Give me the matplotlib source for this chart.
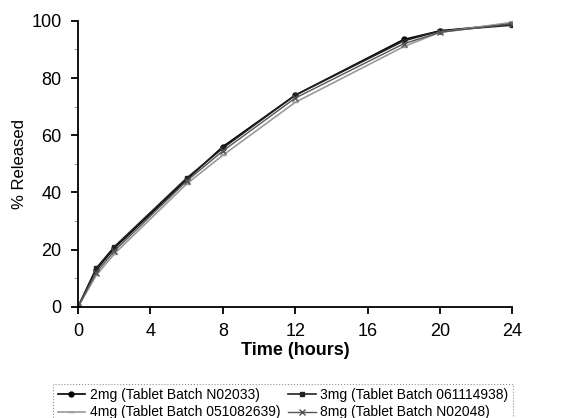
import matplotlib
matplotlib.use("Agg")
import matplotlib.pyplot as plt
from matplotlib.ticker import MultipleLocator

plt.rcParams['font.family'] = ['Liberation Sans', 'DejaVu Sans']

# Time points (hours)
time_h = [0, 1, 2, 6, 8, 12, 18, 20, 24]

# % released for each batch
rel_2mg = [0, 13, 20.5, 44.5, 56, 74, 93.5, 96.5, 99]
rel_3mg = [0, 13.5, 21, 45, 55.5, 74, 93, 96.5, 98.5]
rel_4mg = [0, 11, 18.5, 43, 53, 71.5, 91, 96, 99.5]
rel_8mg = [0, 12, 19.5, 44, 54.5, 73, 92, 96, 99]

labels = ["2mg (Tablet Batch N02033)", "3mg (Tablet Batch 061114938)",
          "4mg (Tablet Batch 051082639)", "8mg (Tablet Batch N02048)"]

fig = plt.figure(figsize=(5.66, 4.18), dpi=100)
ax = fig.add_axes([0.138, 0.266, 0.767, 0.684])

l1, = ax.plot(time_h, rel_2mg, color="black", lw=1.2, marker="o", ms=3.5, label=labels[0])
l2, = ax.plot(time_h, rel_3mg, color="#222222", lw=1.2, marker="s", ms=3.5, label=labels[1])
l3, = ax.plot(time_h, rel_4mg, color="#999999", lw=1.2, marker="_", ms=5, label=labels[2])
l4, = ax.plot(time_h, rel_8mg, color="#555555", lw=1.0, marker="x", ms=4.5, label=labels[3])

ax.set_xlim(0, 24)
ax.set_ylim(0, 100)
ax.set_xticks([0, 4, 8, 12, 16, 20, 24])
ax.set_yticks([0, 20, 40, 60, 80, 100])
ax.yaxis.set_minor_locator(MultipleLocator(10))
ax.spines["top"].set_visible(False)
ax.spines["right"].set_visible(False)
ax.spines["left"].set_linewidth(1.3)
ax.spines["bottom"].set_linewidth(1.3)
ax.tick_params(axis="both", labelsize=13, width=1.3, length=5, pad=7)
ax.tick_params(axis="y", which="minor", length=3, color="#888888")
ax.set_xlabel("Time (hours)", fontsize=13, fontweight="bold", labelpad=1)
ax.set_ylabel("% Released", fontsize=12)
ax.yaxis.set_label_coords(-0.118, 0.5)

# row-wise order: 2mg, 3mg / 4mg, 8mg
leg = fig.legend([l1, l3, l2, l4], [labels[0], labels[2], labels[1], labels[3]],
                 loc="lower center", bbox_to_anchor=(0.5, -0.03), ncol=2, fontsize=10,
                 frameon=True, fancybox=False, handlelength=2, columnspacing=0.6,
                 borderpad=0.3, labelspacing=0.25, handletextpad=0.3)
leg.get_frame().set_edgecolor("#777777")
leg.get_frame().set_linestyle(":")
leg.get_frame().set_linewidth(0.8)

plt.savefig("out.png", dpi=100)
